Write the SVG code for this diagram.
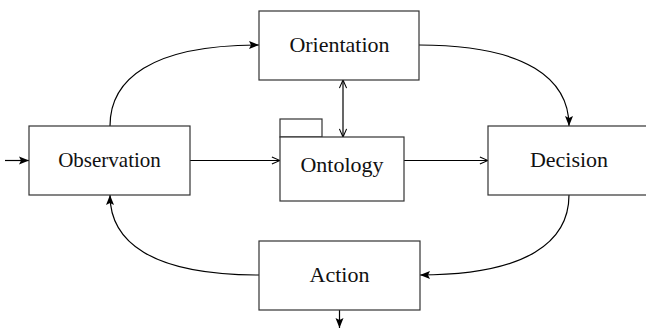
<svg xmlns="http://www.w3.org/2000/svg" width="646" height="333" viewBox="0 0 646 333">
<style>
.box{fill:#fff;stroke:#333;stroke-width:1.2}
.lbl{font-family:"Liberation Serif","Times New Roman",serif;font-size:22px;fill:#111;text-anchor:middle}
.c{fill:none;stroke:#000;stroke-width:1.2}
.f{marker-end:url(#fill)}
.o{marker-end:url(#open)}
</style>
<defs>
<marker id="fill" viewBox="0 0 10 10" refX="10" refY="5" markerWidth="10" markerHeight="10" markerUnits="userSpaceOnUse" orient="auto">
<path d="M0,1 L10,5 L0,9 L2,5 Z" fill="#000"/>
</marker>
<marker id="open" viewBox="0 0 10 10" refX="10" refY="5" markerWidth="9" markerHeight="9" markerUnits="userSpaceOnUse" orient="auto-start-reverse">
<path d="M1,1 L10,5 L1,9" fill="none" stroke="#000" stroke-width="1.2"/>
</marker>
</defs>
<rect width="646" height="333" fill="#fff"/>
<g id="connectors">
<path class="c f" d="M5,160.5 L29,160.5"/>
<path class="c o" d="M190,160.5 L280,160.5"/>
<path class="c o" d="M404,160.5 L488,160.5"/>
<path class="c" d="M343,80 L343,137" marker-start="url(#open)" marker-end="url(#open)"/>
<path class="c f" d="M110,126 C110,80 150,45 259,45"/>
<path class="c f" d="M419,45 C528,45 569,80 569,126"/>
<path class="c f" d="M569,195 C569,241 528,275 420,275"/>
<path class="c f" d="M259,275 C150,275 110,241 110,195"/>
<path class="c f" d="M339.5,310 L339.5,328"/>
</g>
<g id="observation">
<rect class="box" x="29" y="126" width="161" height="69"/>
<text class="lbl" x="109.5" y="166.7" style="font-size:21px">Observation</text>
</g>
<g id="orientation">
<rect class="box" x="259" y="11" width="160" height="69"/>
<text class="lbl" x="339.5" y="51.7">Orientation</text>
</g>
<g id="ontology">
<rect class="box" x="280" y="119" width="42" height="18"/>
<rect class="box" x="280" y="137" width="124" height="64"/>
<text class="lbl" x="342" y="172.3">Ontology</text>
</g>
<g id="decision">
<rect class="box" x="488" y="126" width="162" height="69"/>
<text class="lbl" x="569" y="167.3">Decision</text>
</g>
<g id="action">
<rect class="box" x="259" y="241" width="161" height="69"/>
<text class="lbl" x="339.5" y="281.7">Action</text>
</g>
</svg>
